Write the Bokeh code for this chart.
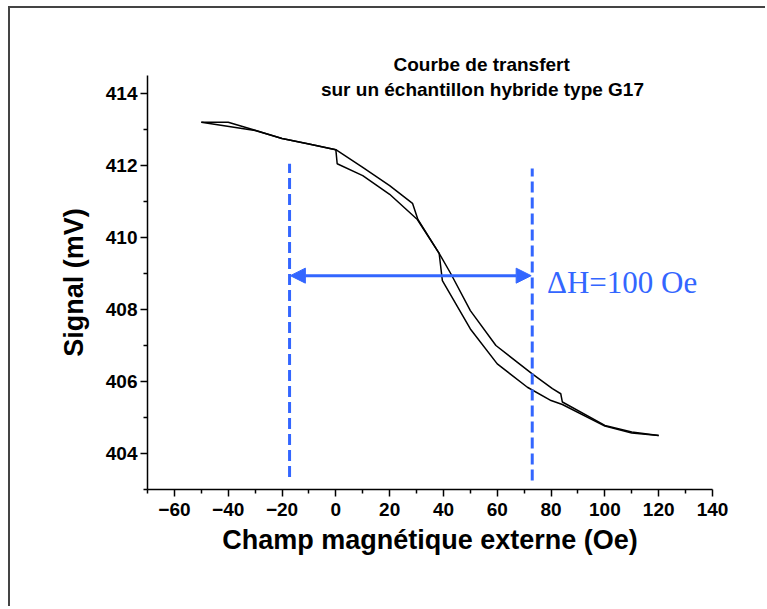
from bokeh.plotting import figure
from bokeh.models import (FixedTicker, Label, Arrow, NormalHead, ColumnDataSource, Title)
from bokeh.embed import file_html
from bokeh.resources import INLINE

# ---- data ----
x_branch1 = [-50, -40, -30, -20, -10, 0, 10, 20, 28.5, 30.5, 38.4, 42.7, 50, 59.5, 73, 80.5, 83.6, 84.2, 100, 110, 120]
y_branch1 = [413.2, 413.2, 412.98, 412.75, 412.6, 412.44, 411.95, 411.44, 410.95, 410.5, 409.56, 409.0, 407.97, 407.0, 406.21, 405.8, 405.66, 405.43, 404.78, 404.6, 404.5]

x_branch2 = [-50, -30, -20, -10, 0, 0.5, 10, 20, 30.3, 38.4, 39.6, 50, 60, 71.2, 80, 84.2, 100, 110, 120]
y_branch2 = [413.2, 412.97, 412.75, 412.6, 412.44, 412.05, 411.72, 411.2, 410.5, 409.56, 408.8, 407.46, 406.49, 405.84, 405.47, 405.36, 404.76, 404.57, 404.5]

marker_x = [-17.2, 73.0]
marker_y_bottom = [403.35, 403.25]
marker_y_top = [412.05, 411.92]

arrow_y = 408.94
arrow_x_start = -16.9
arrow_x_end = 72.6

x_major_ticks = [-60, -40, -20, 0, 20, 40, 60, 80, 100, 120, 140]
x_minor_ticks = [-70, -50, -30, -10, 10, 30, 50, 70, 90, 110, 130]
y_major_ticks = [404, 406, 408, 410, 412, 414]
y_minor_ticks = [403, 405, 407, 409, 411, 413]

title_lines = ["Courbe de transfert", "sur un échantillon hybride type G17"]
delta_label = "ΔH=100 Oe"

BLUE = "#3366ff"

p = figure(width=757, height=600, x_range=(-70, 140), y_range=(403, 414.5),
           output_backend="svg", toolbar_location=None,
           min_border_left=137, min_border_right=55, min_border_top=67, min_border_bottom=119)
p.styles = {"margin": "6px 0 0 8px", "border-top": "2px solid #444", "border-left": "2px solid #444",
            "border-right": "none", "border-bottom": "none", "outline": "none", "box-shadow": "none"}

p.xgrid.visible = False
p.ygrid.visible = False
p.outline_line_color = None
p.background_fill_color = "white"
p.border_fill_color = "white"

for ax, maj, mnr in ((p.xaxis[0], x_major_ticks, x_minor_ticks), (p.yaxis[0], y_major_ticks, y_minor_ticks)):
    ax.ticker = FixedTicker(ticks=maj, minor_ticks=mnr)
    ax.axis_line_color = "black"
    ax.axis_line_width = 1.5
    ax.major_tick_line_color = "black"
    ax.major_tick_line_width = 1.5
    ax.minor_tick_line_color = "black"
    ax.minor_tick_line_width = 1.5
    ax.major_tick_out = 7
    ax.major_tick_in = 0
    ax.minor_tick_out = 4
    ax.minor_tick_in = 0
    ax.major_label_text_font = "Liberation Sans"
    ax.major_label_text_font_style = "bold"
    ax.major_label_text_font_size = "19px"
    ax.major_label_text_color = "black"
    ax.axis_label_text_font = "Liberation Sans"
    ax.axis_label_text_font_style = "bold"
    ax.axis_label_text_font_size = "27px"
    ax.axis_label_text_color = "black"

p.xaxis.axis_label = "Champ magnétique externe (Oe)"
p.yaxis.axis_label = "Signal (mV)"
p.xaxis.major_label_standoff = 6
p.yaxis.major_label_standoff = 3
p.xaxis.axis_label_standoff = 6
p.yaxis.axis_label_standoff = 14

# hysteresis branches
p.line(x_branch1, y_branch1, line_color="black", line_width=1.5)
p.line(x_branch2, y_branch2, line_color="black", line_width=1.5)

# dashed marker lines
msrc = ColumnDataSource(dict(x=marker_x, y0=marker_y_bottom, y1=marker_y_top))
p.segment(x0="x", y0="y0", x1="x", y1="y1", source=msrc,
          line_color=BLUE, line_width=3, line_dash="11 5")

# double arrow
p.add_layout(Arrow(x_start=arrow_x_start, y_start=arrow_y, x_end=arrow_x_end, y_end=arrow_y,
                   line_color=BLUE, line_width=3,
                   start=NormalHead(size=15, fill_color=BLUE, line_color=BLUE, line_width=1),
                   end=NormalHead(size=15, fill_color=BLUE, line_color=BLUE, line_width=1)))

p.add_layout(Label(x=78.5, y=408.75, text=delta_label, text_font="Liberation Serif",
                   text_font_size="31px", text_color=BLUE, text_baseline="middle",
                   text_align="left"))

# title: first line above the frame, second line inside it
p.add_layout(Title(text=title_lines[0], align="left", offset=246, standoff=1,
                   text_font="Liberation Sans", text_font_style="bold",
                   text_font_size="19px", text_color="black"), "above")
p.add_layout(Label(x=54.5, y=414.1, text=title_lines[1], text_font="Liberation Sans",
                   text_font_style="bold", text_font_size="19px", text_color="black",
                   text_align="center", text_baseline="middle"))

open("out.html", "w").write(file_html(p, INLINE))
